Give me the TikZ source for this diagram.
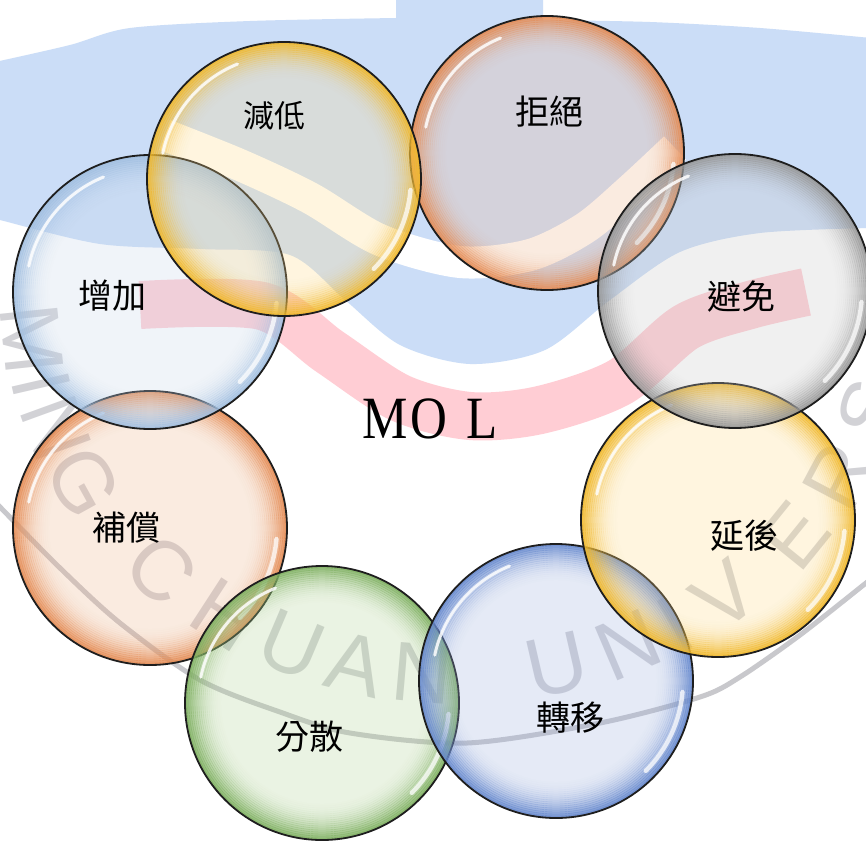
\documentclass[tikz,border=0pt]{standalone}
\usepackage{fontspec}
\usepackage{graphicx}
\setmainfont{Liberation Serif}
\newfontfamily\cjkfont{Noto Sans CJK TC}
\newfontfamily\wmfont{Liberation Sans}
\usetikzlibrary{calc}
\definecolor{wmblue}{RGB}{203,221,247}
\definecolor{wmpink}{RGB}{255,205,212}
\definecolor{wmgray}{RGB}{210,210,214}
\definecolor{wmline}{RGB}{200,200,204}
\definecolor{outl}{RGB}{30,30,30}
\definecolor{tGold}{RGB}{255,219,135}
\definecolor{rGold}{RGB}{240,183,40}
\definecolor{tOrange}{RGB}{239,179,139}
\definecolor{rOrange}{RGB}{228,138,82}
\definecolor{tGray}{RGB}{200,200,200}
\definecolor{rGray}{RGB}{150,150,150}
\definecolor{tBlue}{RGB}{155,175,223}
\definecolor{rBlue}{RGB}{100,135,205}
\definecolor{tGreen}{RGB}{175,211,147}
\definecolor{rGreen}{RGB}{125,175,95}
\definecolor{tIce}{RGB}{199,215,235}
\definecolor{rIce}{RGB}{160,190,224}
\newcommand\bubble[3]{%
  \fill[#2, fill opacity=0.26] (#1) circle[radius=137];
  \foreach \k in {0,...,18}{%
    \pgfmathsetmacro\rr{136-2*\k}%
    \pgfmathsetmacro\aa{0.85*(1-\k/19)^2.2}%
    \draw[#3, draw opacity=\aa, line width=2.4] (#1) circle[radius=\rr];
  }
  \draw[white, opacity=0.85, line width=3, line cap=round] ([shift={(-112:124)}]#1) arc[start angle=-112, end angle=-168, radius=124];
  \draw[white, opacity=0.75, line width=4.5, line cap=round] ([shift={(5:127)}]#1) arc[start angle=5, end angle=45, radius=127];
  \draw[outl, line width=1.8] (#1) circle[radius=137];
}
\begin{document}
\begin{tikzpicture}[x=1pt,y=-1pt,
  lbl/.style={font=\cjkfont\fontsize{34}{34}\selectfont, text=black, inner sep=0pt},
  wmletter/.style={font=\wmfont\fontsize{84}{84}\selectfont, text=wmgray, inner sep=0pt}]
\useasboundingbox (0,0) rectangle (866,840);
\begin{scope}
\clip (0,0) rectangle (866,840);
\fill[white] (0,0) rectangle (866,840);
% watermark logo
\fill[wmblue] plot[smooth] coordinates {(-5,62) (70,45) (130,28) (250,21) (396,18)} -- (396,-5) -- (543,-5)
  -- plot[smooth] coordinates {(543,20) (650,22) (760,28) (871,38)} -- (871,228)
  -- plot[smooth] coordinates {(871,228) (760,233) (680,252) (610,300) (545,350) (470,364) (400,345) (345,300) (290,255) (200,249) (100,244) (0,220) (-5,218)} -- cycle;
\draw[white, line width=32] plot[smooth] coordinates {(165,135) (240,165) (310,198) (380,240) (460,262) (530,255) (585,228) (630,190) (675,148)};
\draw[wmpink, line width=48] plot[smooth] coordinates {(140,305) (262,306) (330,352) (400,398) (470,416) (540,410) (620,382) (686,327) (750,305) (806,292)};
\draw[wmline, line width=5] plot[smooth] coordinates {(-10,497) (0,507) (60,568) (120,623) (200,680) (280,712) (350,733) (467,743) (600,723) (700,697) (740,677) (800,635) (866,583) (880,572)};
\foreach \ch/\t [count=\i] in {M/174,I/167,N/160,G/151,C/134,H/123,U/113,A/104,N/95,U/77,N/67,I/60,V/52,E/39,R/28,S/17}
  \node[wmletter, rotate={90-(\t)}] (wm\i) at ({460+430*cos(\t)},{300+375*sin(\t)}) {\ch};
% bubbles
\coordinate (b1) at (150,292);
\coordinate (b2) at (284,179);
\coordinate (b3) at (547,153);
\coordinate (b4) at (735,291);
\coordinate (b5) at (718,520);
\coordinate (b6) at (556,681);
\coordinate (b7) at (322,703);
\coordinate (b8) at (150,528);
\bubble{b8}{tOrange}{rOrange}
\bubble{b7}{tGreen}{rGreen}
\bubble{b6}{tBlue}{rBlue}
\bubble{b5}{tGold}{rGold}
\bubble{b3}{tOrange}{rOrange}
\bubble{b4}{tGray}{rGray}
\bubble{b1}{tIce}{rIce}
\bubble{b2}{tGold}{rGold}
\end{scope}
% labels
\node[lbl] (l1) at (112,296) {增加};
\node[lbl, font=\cjkfont\fontsize{31}{31}\selectfont] (l2) at (274,116) {減低};
\node[lbl] (l3) at (549,112) {拒絕};
\node[lbl] (l4) at (741,297) {避免};
\node[lbl] (l5) at (744,536) {延後};
\node[lbl] (l6) at (570,718) {轉移};
\node[lbl] (l7) at (309,737) {分散};
\node[lbl] (l8) at (126,528) {補償};
\node[anchor=base, inner sep=0pt] (mol) at (430,438) {\fontsize{60}{60}\selectfont\scalebox{0.85}[1]{M\kern3ptO\kern22ptL}};
\end{tikzpicture}
\end{document}
